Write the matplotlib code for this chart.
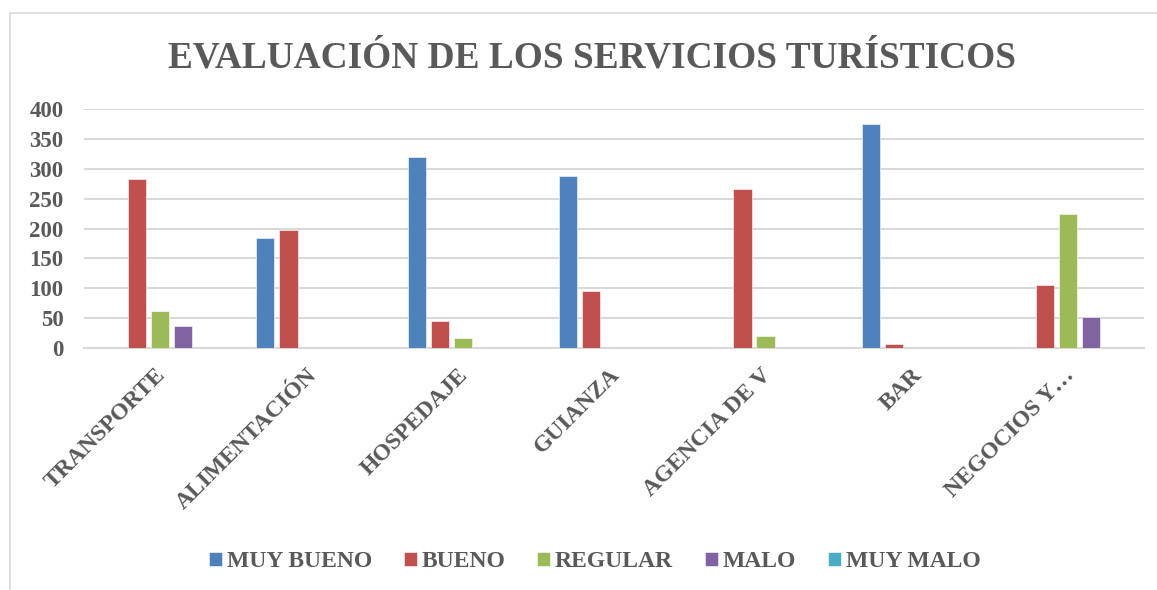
import numpy as np
import matplotlib
matplotlib.use('Agg')
import matplotlib.pyplot as plt
import matplotlib.transforms as mtrans
from matplotlib.patches import Rectangle

plt.rcParams['font.family'] = ['Liberation Serif', 'DejaVu Serif']

# data
categorias = ['TRANSPORTE', 'ALIMENTACIÓN', 'HOSPEDAJE', 'GUIANZA',
              'AGENCIA DE V', 'BAR', 'NEGOCIOS Y…']
series = ['MUY BUENO', 'BUENO', 'REGULAR', 'MALO', 'MUY MALO']
muy_bueno = [0, 184, 320, 288, 0, 375, 0]
bueno = [283, 198, 44, 95, 266, 7, 105]
regular = [61, 0, 17, 0, 20, 0, 224]
malo = [37, 0, 0, 0, 0, 0, 51]
muy_malo = [0, 0, 0, 0, 0, 0, 0]
yticks = [0, 50, 100, 150, 200, 250, 300, 350, 400]

colores = ['#4F81BD', '#C0504D', '#9BBB59', '#8064A2', '#4BACC6']
gris = '#595959'

fig = plt.figure(figsize=(11.57, 5.90), dpi=100)
ax = fig.add_axes([0.0729, 0.4107, 0.9156, 0.4040])

x = np.arange(len(categorias))
paso = 0.152
ancho = 0.121
valores = [muy_bueno, bueno, regular, malo, muy_malo]
for i, (nombre, vals) in enumerate(zip(series, valores)):
    ax.bar(x + (i - 2) * paso, vals, ancho, color=colores[i], label=nombre,
           edgecolor='white', linewidth=0.4, zorder=3)

ax.set_xlim(-0.5, len(categorias) - 0.5)
ax.set_ylim(0, 400)
ax.set_yticks(yticks)
ax.set_yticklabels([str(v) for v in yticks], fontsize=16.5, fontweight='bold', color=gris)
ax.yaxis.grid(True, color='#D9D9D9', linewidth=1.5, zorder=0)
ax.tick_params(axis='both', length=0)
ax.tick_params(axis='y', pad=15)
for s in ['top', 'right', 'left']:
    ax.spines[s].set_visible(False)
ax.spines['bottom'].set_color('#D9D9D9')
ax.spines['bottom'].set_linewidth(1.5)

ax.set_xticks(x)
ax.set_xticklabels(categorias, fontsize=17, fontweight='bold', color=gris,
                   rotation=45, ha='right', va='top')
ax.tick_params(axis='x', pad=12)
desplazar = mtrans.ScaledTranslation(10 / 100, 0, fig.dpi_scale_trans)
for lab in ax.get_xticklabels():
    lab.set_transform(lab.get_transform() + desplazar)

fig.text(0.512, 1 - 68 / 590, 'EVALUACIÓN DE LOS SERVICIOS TURÍSTICOS', ha='center',
         va='baseline', fontsize=26.9, fontweight='bold', color=gris)

leg = fig.legend(loc='center', bbox_to_anchor=(0.514, 0.0475), ncol=5, frameon=False,
                 prop={'size': 17, 'weight': 'bold'}, handlelength=0.55, handleheight=0.55,
                 handletextpad=0.2, columnspacing=1.35, labelcolor=gris)

# marco del grafico
fig.patches.append(Rectangle((10 / 1157, -0.1), 1.2, 1 - 13 / 590 + 0.1,
                             transform=fig.transFigure, fill=False,
                             edgecolor='#D9D9D9', linewidth=1.2))

fig.savefig('out.png', dpi=100)
